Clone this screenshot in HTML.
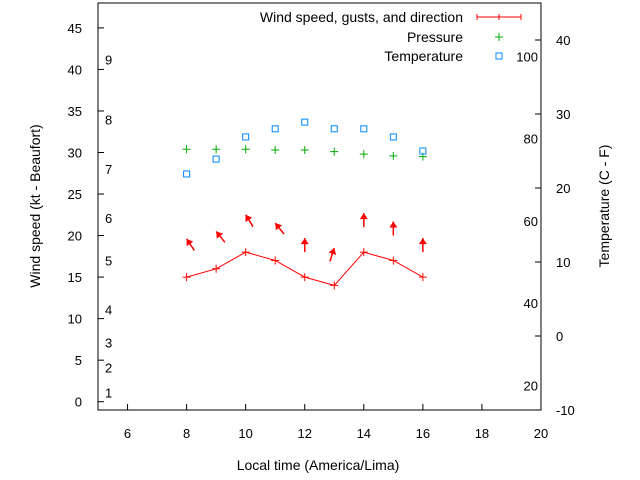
<!DOCTYPE html>
<html><head><meta charset="utf-8"><style>body{margin:0;background:#fff}svg{display:block;font-family:"Liberation Sans",sans-serif}</style></head><body>
<svg id="c" width="640" height="480" viewBox="0 0 640 480"></svg>
<script>
const hours=[8,9,10,11,12,13,14,15,16];
const windSpeed=[15,16,18,17,15,14,18,17,15];
const gusts=[19.6,20.5,22.5,21.5,19.7,18.5,22.7,21.7,19.7];
const direction=[-34,-39,-32,-39,0,18,0,0,0];
const pressure=[30.4,30.4,30.4,30.3,30.3,30.1,29.8,29.6,29.5];
const temperature=[21.9,23.9,26.9,28,28.9,28,28,26.9,25];
const xTicks=[6,8,10,12,14,16,18,20];
const yTicks=[0,5,10,15,20,25,30,35,40,45];
const y2Ticks=[-10,0,10,20,30,40];
const beaufort=[[1,1.1],[2,4.1],[3,7.1],[4,11.1],[5,17],[6,22.1],[7,28],[8,34],[9,41.2]];
const fahr=[20,40,60,80,100];
const L=98,R=541,T=3,B=410;
const X=v=>L+(v-5)*(R-L)/15;
const Y=v=>B-(v+1)*(B-T)/49;
const Y2=v=>B-(v+10)*(B-T)/55;
const svg=document.getElementById('c');const NS='http://www.w3.org/2000/svg';
function el(t,a,txt){const e=document.createElementNS(NS,t);for(const k in a)e.setAttribute(k,a[k]);if(txt!==undefined)e.textContent=txt;svg.appendChild(e);return e;}
let e=el('rect',{x:L,y:T,width:R-L,height:B-T,fill:'none',stroke:'#000'});

xTicks.forEach(v=>{el('line',{x1:X(v),x2:X(v),y1:B,y2:B-6,stroke:'#000'});
 e=el('text',{x:X(v),y:B+28,'font-size':13,'text-anchor':'middle'},v);
 });
yTicks.forEach(v=>{el('line',{x1:L,x2:L+6,y1:Y(v),y2:Y(v),stroke:'#000'});
 e=el('text',{x:82,y:Y(v)+5,'font-size':13,'text-anchor':'end'},v);
 });
y2Ticks.forEach(v=>{el('line',{x1:R,x2:R-6,y1:Y2(v),y2:Y2(v),stroke:'#000'});
 e=el('text',{x:556,y:Y2(v)+5,'font-size':13},v);
 });
beaufort.forEach(b=>{e=el('text',{x:105,y:Y(b[1])+5,'font-size':13},b[0]);
 });
fahr.forEach(f=>{e=el('text',{x:538,y:Y2((f-32)*5/9)+5,'font-size':13,'text-anchor':'end'},f);
 });
e=el('text',{x:318,y:470,'font-size':14,'text-anchor':'middle'},'Local time (America/Lima)');

e=el('text',{x:0,y:0,'font-size':14,'text-anchor':'middle',transform:'translate(40,206) rotate(-90)'},'Wind speed (kt - Beaufort)');

e=el('text',{x:0,y:0,'font-size':14,'text-anchor':'middle',transform:'translate(609,206) rotate(-90)'},'Temperature (C - F)');

e=el('polyline',{points:hours.map((h,i)=>X(h)+','+Y(windSpeed[i])).join(' '),fill:'none',stroke:'#f00'});

function plus(x,y,c,n){e=el('path',{d:`M${x-4},${y}h8M${x},${y-4}v8`,stroke:c,fill:'none'});
 }
hours.forEach((h,i)=>plus(X(h),Y(windSpeed[i]),'#f00','wind-point'));
hours.forEach((h,i)=>{const x=X(h),y=Y(gusts[i]),a=direction[i]*Math.PI/180,len=14;
 const dx=Math.sin(a),dy=-Math.cos(a);
 e=el('line',{x1:x-dx*len,y1:y-dy*len,x2:x,y2:y,stroke:'#f00','stroke-width':1.5});
 
 const px=-dy,py=dx,h2=6,w=4;
 e=el('polygon',{points:`${x},${y} ${x-dx*h2+px*w},${y-dy*h2+py*w} ${x-dx*h2-px*w},${y-dy*h2-py*w}`,fill:'#f00'});
 });
hours.forEach((h,i)=>plus(X(h),Y(pressure[i]),'#0a0','pressure-point'));
hours.forEach((h,i)=>{e=el('rect',{x:X(h)-3,y:Y2(temperature[i])-3,width:6,height:6,fill:'none',stroke:'#08f'});
 });
[['Wind speed, gusts, and direction',22],['Pressure',42],['Temperature',61]].forEach(l=>{
 e=el('text',{x:463,y:l[1],'font-size':14,'text-anchor':'end'},l[0]);
 });
e=el('path',{d:'M477,17H521M477,14v6M499,14v6M521,14v6',stroke:'#f00',fill:'none'});

plus(499,37,'#0a0','legend-pressure-symbol');
e=el('rect',{x:496,y:53,width:6,height:6,fill:'none',stroke:'#08f'});

</script>
</body></html>
